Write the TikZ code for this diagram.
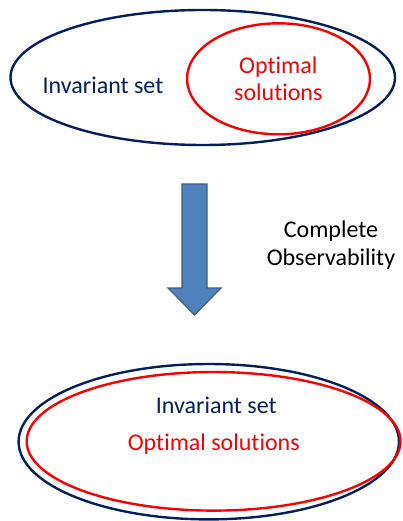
\documentclass[tikz,border=0pt]{standalone}
\usepackage{fontspec}
\setmainfont{Carlito}[Ligatures={NoCommon}]
\usetikzlibrary{shapes.geometric}
\definecolor{navy}{HTML}{002060}
\definecolor{pptred}{HTML}{FF0000}
\definecolor{arrowfill}{HTML}{4F81BD}
\definecolor{arrowline}{HTML}{3A5F8C}
\tikzset{
  setshape/.style={ellipse, draw=#1, line width=2.4pt, inner sep=0pt, fill=none},
  lbl/.style={anchor=base, inner sep=0pt, align=center, font=\fontsize{24}{27.5}\selectfont},
}
\begin{document}
\begin{tikzpicture}[x=1pt,y=-1pt]
\useasboundingbox (0,0) rectangle (403,521);
% top
\node[setshape=navy, minimum width=384.5pt, minimum height=135pt] (inv1) at (202.75,77.5) {};
\node[setshape=pptred, minimum width=183pt, minimum height=111pt] (opt1) at (278.5,78.8) {};
\node[lbl, text=navy] (t1) at (103,93.3) {Invariant set};
\node[lbl, text=pptred] (t2) at (278.3,100.7) {Optimal\\solutions};
% arrow
\coordinate (a1) at (182,184);
\coordinate (a2) at (207,184);
\coordinate (a3) at (207,288);
\coordinate (a4) at (221,288);
\coordinate (tip) at (194.5,315);
\coordinate (a6) at (168,288);
\coordinate (a7) at (182,288);
\draw[fill=arrowfill, draw=arrowline, line width=1.2pt, line join=miter]
  (a1) -- (a2) -- (a3) -- (a4) -- (tip) -- (a6) -- (a7) -- cycle;
\node[lbl, text=black] (t3) at (331,265) {Complete\\Observability};
% bottom
\node[setshape=navy, minimum width=380.4pt, minimum height=155.4pt] (inv2) at (208.8,441.7) {};
\node[setshape=pptred, minimum width=373.8pt, minimum height=138.6pt] (opt2) at (213.6,441.3) {};
\node[lbl, text=navy] (t4) at (216.3,413.3) {Invariant set};
\node[lbl, text=pptred] (t5) at (213.8,450) {Optimal solutions};
\end{tikzpicture}
\end{document}
